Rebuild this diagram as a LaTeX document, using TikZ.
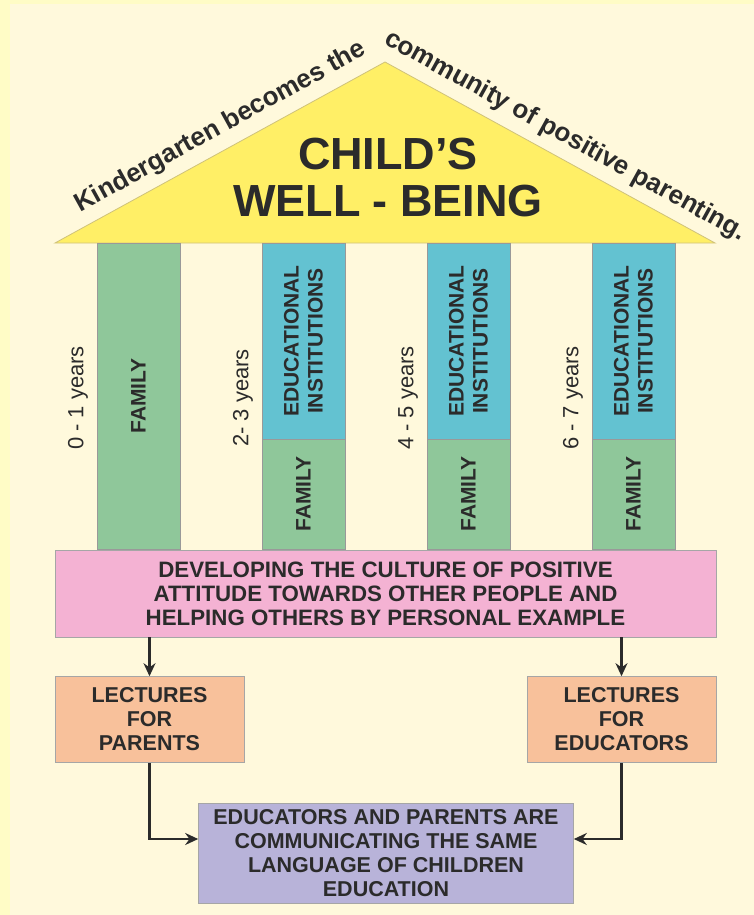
\documentclass[tikz,border=0pt]{standalone}
\usepackage{fontspec}
\setmainfont{Liberation Sans}
\usepackage{tikz}
\usetikzlibrary{arrows.meta}
\usepackage{xcolor}

\definecolor{paper}{HTML}{FFF9DC}
\definecolor{paperedge}{HTML}{FFFCC6}
\definecolor{roofyellow}{HTML}{FFEF66}
\definecolor{roofline}{HTML}{CFC27A}
\definecolor{famgreen}{HTML}{8FC79A}
\definecolor{edublue}{HTML}{63C2D1}
\definecolor{culturepink}{HTML}{F4B2D3}
\definecolor{lectorange}{HTML}{F8C19B}
\definecolor{commonpurple}{HTML}{B8B3D9}
\definecolor{inkgray}{HTML}{2B2B2B}

\tikzset{
  colbox/.style={draw=black!40, line width=0.6pt, rotate=90, inner sep=0pt,
    align=center, text=inkgray, font=\bfseries\fontsize{21}{24}\selectfont},
  agelabel/.style={rotate=90, text=inkgray, font=\fontsize{22}{24}\selectfont},
  infobox/.style={draw=black!35, line width=0.6pt, inner sep=0pt, align=center,
    text=inkgray, font=\bfseries\fontsize{21.5}{24}\selectfont},
  rooftext/.style={anchor=base, inner sep=0pt, text=inkgray,
    font=\bfseries\fontsize{26}{30}\selectfont},
  arrowline/.style={draw=inkgray, line width=2.4pt,
    -{Stealth[length=13pt,width=12pt]}},
}

\begin{document}
\begin{tikzpicture}[x=1pt,y=-1pt]
		\useasboundingbox (0,0) rectangle (754,915);
		\fill[paperedge] (0,0) rectangle (754,915);
		\fill[paper] (10,4) rectangle (754,915);
		% roof
		\coordinate (roofL) at (55,243);
		\coordinate (roofT) at (385,62);
		\coordinate (roofR) at (715,243);
		\filldraw[fill=roofyellow, draw=roofline, line width=0.8pt] (roofL) -- (roofT) -- (roofR) -- cycle;
		\node[align=center, text=inkgray, font=\bfseries\fontsize{45}{47}\selectfont] (title) at (388,178) {CHILD'S\\WELL - BEING};
		\node[rooftext, rotate=28.9] (slogan1) at (224,133) {Kindergarten becomes the};
		\node[rooftext, rotate=-28.9] (slogan2) at (562,142) {community of positive parenting.};
		% pillars
		\node[colbox, fill=famgreen, minimum width=306pt, minimum height=83pt] (fam1) at (138.5,396) {FAMILY};
		\node[agelabel] (age1) at (78,398) {0 - 1 years};
		\foreach \x/\age [count=\i from 2] in {303.5/{2- 3 years}, 468.5/{4 - 5 years}, 633.5/{6 - 7 years}}
		{
			\node[colbox, fill=edublue, minimum width=196pt, minimum height=83pt] (edu\i) at (\x,341) {EDUCATIONAL\\INSTITUTIONS};
			\node[colbox, fill=famgreen, minimum width=110pt, minimum height=83pt] (fam\i) at (\x,494) {FAMILY};
			\node[agelabel] (age\i) at (\x-60.5,398) {\age};
		}
		% boxes
		\node[infobox, fill=culturepink, minimum width=661pt, minimum height=87pt, font=\bfseries\fontsize{22.3}{24}\selectfont] (culture) at (385.5,593.5)
			{DEVELOPING THE CULTURE OF POSITIVE\\ATTITUDE TOWARDS OTHER PEOPLE AND\\HELPING OTHERS BY PERSONAL EXAMPLE};
		\node[infobox, fill=lectorange, minimum width=189pt, minimum height=86pt] (parents) at (149.5,719.5) {LECTURES\\FOR\\PARENTS};
		\node[infobox, fill=lectorange, minimum width=189pt, minimum height=86pt] (educators) at (621.5,719.5) {LECTURES\\FOR\\EDUCATORS};
		\node[infobox, fill=commonpurple, minimum width=375pt, minimum height=100pt] (common) at (386,853)
			{EDUCATORS AND PARENTS ARE\\COMMUNICATING THE SAME\\LANGUAGE OF CHILDREN\\EDUCATION};
		% arrows
		\draw[arrowline] (parents.north |- culture.south) -- (parents.north);
		\draw[arrowline] (educators.north |- culture.south) -- (educators.north);
		\draw[arrowline] (parents.south) |- ([yshift=14pt]common.west);
		\draw[arrowline] (educators.south) |- ([yshift=14pt]common.east);
	\end{tikzpicture}
\end{document}
